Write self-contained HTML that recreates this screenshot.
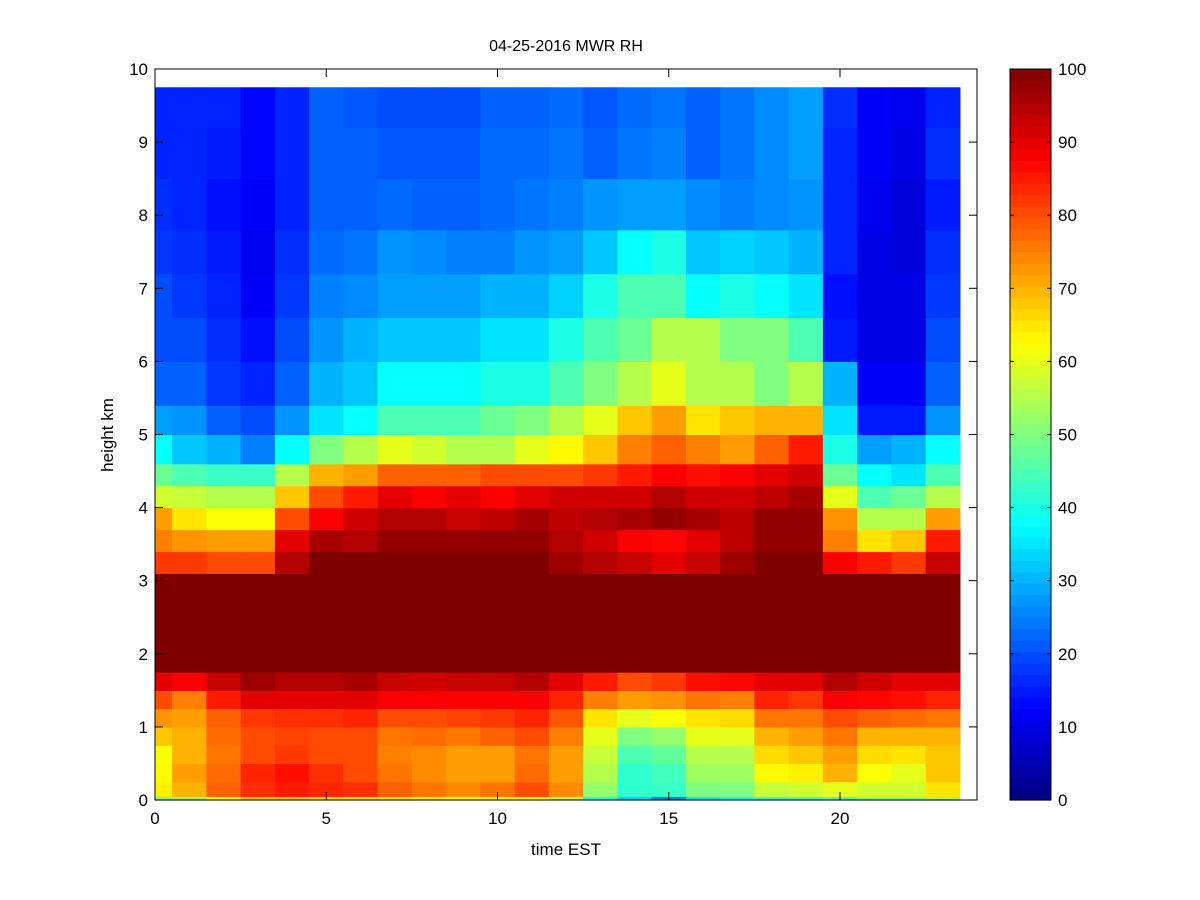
<!DOCTYPE html>
<html><head><meta charset="utf-8">
<style>
html,body{margin:0;padding:0;background:#fff;}
svg{display:block;font-family:"Liberation Sans",Arial,sans-serif;}
</style></head>
<body>
<svg id="chart" width="1200" height="900" viewBox="0 0 1200 900">
<rect x="0" y="0" width="1200" height="900" fill="#fff"/>
<g id="cells"></g>
<g id="axes"></g>
<g id="cbar"></g>
<text x="566" y="51" font-size="16" text-anchor="middle">04-25-2016 MWR RH</text>
<text x="566" y="855" font-size="17" text-anchor="middle">time EST</text>
<text x="0" y="0" font-size="17" text-anchor="middle" transform="translate(113,435) rotate(-90)">height km</text>
</svg>
<script>
const hours = [0,1,2,3,4,5,6,7,8,9,10,11,12,13,14,15,16,17,18,19,20,21,22,23];
const heightEdges = [0,0.05,0.25,0.5,0.75,1.0,1.25,1.5,1.75,3.1,3.4,3.7,4.0,4.3,4.6,5.0,5.4,6.0,6.6,7.2,7.8,8.5,9.2,9.75];
const xTicks = [0,5,10,15,20];
const yTicks = [0,1,2,3,4,5,6,7,8,9,10];
const cTicks = [0,10,20,30,40,50,60,70,80,90,100];
const rh0 = [50,52,62,68,68,66,65,65,64,62,63,62,55,40,33,25,35,37,42,43,45,50,50,52];
const rh1 = [64,70,78,83,85,84,83,78,76,74,76,80,74,52,42,43,50,50,57,58,60,58,58,65];
const rh2 = [63,72,77,84,86,83,80,76,74,72,72,77,72,55,42,44,53,53,63,64,70,62,60,68];
const rh3 = [62,70,76,80,82,80,80,75,74,72,72,76,72,57,45,47,55,55,66,68,72,66,65,68];
const rh4 = [68,70,77,80,81,80,80,76,77,76,78,80,75,60,50,52,60,60,70,72,76,70,70,70];
const rh5 = [73,72,78,82,83,83,84,80,80,81,82,84,79,65,60,62,65,66,76,76,80,78,77,76];
const rh6 = [80,75,85,90,90,90,90,88,88,88,88,88,84,75,72,73,76,75,84,82,88,87,86,84];
const rh7 = [90,88,93,97,95,95,96,93,92,93,93,95,90,85,80,82,86,87,90,90,95,92,90,90];
const rh8 = [100,100,100,100,100,100,100,100,100,100,100,100,100,100,100,100,100,100,100,100,100,100,100,100];
const rh9 = [82,82,80,80,95,100,100,100,100,100,100,100,97,95,93,90,93,97,100,100,88,85,82,93];
const rh10 = [75,73,72,72,90,96,95,98,98,98,98,98,95,92,88,87,90,94,98,98,75,65,68,85];
const rh11 = [72,65,62,62,80,88,92,95,95,93,94,96,94,95,96,98,96,94,98,98,73,55,55,72];
const rh12 = [58,57,55,55,68,80,85,90,88,90,88,90,92,92,92,95,92,92,94,96,60,45,48,55];
const rh13 = [48,45,43,43,55,70,72,78,78,78,80,80,80,82,85,88,86,88,90,92,48,38,35,45];
const rh14 = [38,32,30,25,38,50,55,60,58,55,55,60,63,68,75,78,75,72,78,85,40,28,30,38];
const rh15 = [28,27,22,20,27,35,38,45,45,45,48,50,55,60,68,72,65,68,70,70,35,15,15,27];
const rh16 = [22,22,18,16,22,30,32,38,38,38,40,40,45,50,55,60,55,55,50,55,30,12,12,22];
const rh17 = [20,20,17,14,20,27,30,32,32,32,35,35,40,45,48,55,55,50,50,45,15,10,10,20];
const rh18 = [20,18,16,12,18,25,26,28,28,28,30,30,33,40,45,45,38,40,38,35,14,10,10,18];
const rh19 = [18,17,15,11,17,23,24,27,26,25,25,27,28,32,38,40,32,33,32,30,16,10,9,17];
const rh20 = [17,16,14,12,16,22,22,23,22,22,23,24,25,27,28,28,26,25,26,27,16,11,9,15];
const rh21 = [16,16,15,13,16,22,22,21,21,21,23,23,24,22,24,25,22,24,26,28,16,12,10,17];
const rh22 = [16,16,16,13,16,22,21,20,20,20,22,22,23,21,23,24,22,24,26,28,17,12,11,16];
const rhRows = [rh0,rh1,rh2,rh3,rh4,rh5,rh6,rh7,rh8,rh9,rh10,rh11,rh12,rh13,rh14,rh15,rh16,rh17,rh18,rh19,rh20,rh21,rh22];

const NS = "http://www.w3.org/2000/svg";
const X0 = 155, X1 = 977, Y0 = 800, Y1 = 69;
const xScale = h => X0 + (h / 24) * (X1 - X0);
const yScale = km => Y0 - (km / 10) * (Y0 - Y1);
function clamp(v){return Math.max(0, Math.min(1, v));}
function jet(val){
  const v = clamp(val / 100);
  const r = clamp(1.5 - Math.abs(4*v - 3));
  const g = clamp(1.5 - Math.abs(4*v - 2));
  const b = clamp(1.5 - Math.abs(4*v - 1));
  return "rgb(" + Math.round(r*255) + "," + Math.round(g*255) + "," + Math.round(b*255) + ")";
}
function mk(tag, attrs){
  const e = document.createElementNS(NS, tag);
  for (const k in attrs) e.setAttribute(k, attrs[k]);
  return e;
}
const cells = document.getElementById("cells");
rhRows.forEach((row, ri) => {
  const yb = yScale(heightEdges[ri]), yt = yScale(heightEdges[ri+1]);
  row.forEach((val, ci) => {
    const xl = xScale(Math.max(0, hours[ci] - 0.5)), xr = xScale(hours[ci] + 0.5);
    const r = mk("rect", {x: xl, y: yt, width: xr - xl + 0.6, height: yb - yt + 0.6, fill: jet(val)});
    
    
    cells.appendChild(r);
  });
});

const axes = document.getElementById("axes");
const box = mk("rect", {x: X0, y: Y1, width: X1 - X0, height: Y0 - Y1, fill: "none", stroke: "#000", "stroke-width": 1});


axes.appendChild(box);
xTicks.forEach(t => {
  const x = xScale(t);
  axes.appendChild(mk("line", {x1: x, y1: Y0, x2: x, y2: Y0 - 8, stroke: "#000"}));
  axes.appendChild(mk("line", {x1: x, y1: Y1, x2: x, y2: Y1 + 8, stroke: "#000"}));
  const tx = mk("text", {x: x, y: Y0 + 24, "font-size": 17, "text-anchor": "middle"});
  tx.textContent = t;
  
  
  axes.appendChild(tx);
});
yTicks.forEach(t => {
  const y = yScale(t);
  axes.appendChild(mk("line", {x1: X0, y1: y, x2: X0 + 8, y2: y, stroke: "#000"}));
  axes.appendChild(mk("line", {x1: X1, y1: y, x2: X1 - 8, y2: y, stroke: "#000"}));
  const tx = mk("text", {x: X0 - 7, y: y + 6, "font-size": 17, "text-anchor": "end"});
  tx.textContent = t;
  
  
  axes.appendChild(tx);
});

const cbar = document.getElementById("cbar");
const CX0 = 1010, CX1 = 1051;
const cScale = v => Y0 - (v / 100) * (Y0 - Y1);
for (let i = 0; i < 64; i++) {
  const v0 = i * 100 / 64, v1 = (i + 1) * 100 / 64;
  const r = mk("rect", {x: CX0, y: cScale(v1), width: CX1 - CX0, height: cScale(v0) - cScale(v1) + 0.6, fill: jet((v0 + v1) / 2)});
  
  
  cbar.appendChild(r);
}
cbar.appendChild(mk("rect", {x: CX0, y: Y1, width: CX1 - CX0, height: Y0 - Y1, fill: "none", stroke: "#000"}));
cTicks.forEach(t => {
  const y = cScale(t);
  cbar.appendChild(mk("line", {x1: CX0, y1: y, x2: CX0 + 4, y2: y, stroke: "#000"}));
  cbar.appendChild(mk("line", {x1: CX1, y1: y, x2: CX1 - 4, y2: y, stroke: "#000"}));
  const tx = mk("text", {x: CX1 + 7, y: y + 6, "font-size": 17, "text-anchor": "start"});
  tx.textContent = t;
  
  
  cbar.appendChild(tx);
});
</script>
</body></html>
